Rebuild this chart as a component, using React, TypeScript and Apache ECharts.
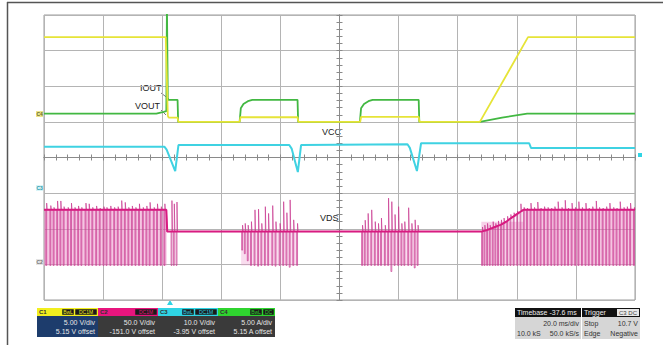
import React, { useEffect, useRef } from "react";
import * as echarts from "echarts";

// ---- screen axes: time in ms (20 ms/div), vertical in divisions ----
const X_MIN = -100;
const X_MAX = 100;
const X_STEP = 20;
const Y_MIN = -4;
const Y_MAX = 4;

// ---- C1 (yellow) ----
const c1Times = [-100, -58.8, -58.1, -57.8, -54.8, -54.5, -33.8, -33.5, -14.2, -13.9, 7.0, 7.3, 26.8, 27.1, 47.5, 63.8, 100];
const c1Levels = [3.38, 3.38, 1.17, 1.12, 1.12, 1.0, 1.0, 1.13, 1.13, 1.0, 1.0, 1.14, 1.14, 1.0, 1.0, 3.38, 3.38];

// ---- C4 (green, IOUT) ----
const c4Times = [-100, -62, -59.5, -58.6, -58.4, -58.1, -54.8, -54.6, -33.8, -33.4, -32.5, -31.0, -29.5, -14.2, -14.0, 6.9, 7.3, 8.3, 9.8, 11.2, 26.8, 27.0, 47.5, 55, 63.5, 100];
const c4Levels = [1.23, 1.23, 1.28, 1.3, 4.3, 1.62, 1.62, 1.0, 1.0, 1.38, 1.5, 1.58, 1.62, 1.62, 1.0, 1.0, 1.38, 1.5, 1.58, 1.62, 1.62, 1.0, 1.0, 1.12, 1.23, 1.23];

// ---- C3 (cyan, VCC) ----
const c3Times = [-100, -59.2, -58.5, -55.6, -54.5, -17.0, -16.2, -14.1, -13.0, 23.0, 23.8, 26.2, 27.6, 64.2, 64.8, 100];
const c3Levels = [0.3, 0.3, 0.22, -0.38, 0.35, 0.35, 0.25, -0.41, 0.35, 0.37, 0.27, -0.38, 0.4, 0.4, 0.27, 0.27];

// ---- C2 (magenta, VDS) ----
const C2_HIGH = -1.47;
const C2_MID = -2.08;
const C2_LOW = -3.03;

const b1Times = [-99.4, -98.0, -96.9, -95.7, -94.6, -93.5, -92.1, -91.0, -89.8, -88.6, -87.5, -86.1, -85.0, -83.8, -82.5, -81.3, -80.0, -79.0, -77.7, -76.4, -75.2, -74.0, -72.8, -71.6, -70.4, -69.2, -68.0, -66.7, -65.5, -64.4, -63.0, -61.9, -60.6, -59.4];
const b1Peaks = [-1.28, -1.35, -1.4, -1.22, -1.22, -1.38, -1.4, -1.28, -1.4, -1.36, -1.4, -1.28, -1.3, -1.4, -1.36, -1.42, -1.38, -1.4, -1.36, -1.4, -1.38, -1.21, -1.26, -1.4, -1.36, -1.4, -1.3, -1.4, -1.36, -1.26, -1.4, -1.3, -1.38, -1.3];
const b1TailTimes = [-57.0, -56.2, -55.3];
const b1TailPeaks = [-1.21, -1.3, -1.25];

const b2Times = [-33.1, -32.2, -31.2, -30.1, -28.9, -27.7, -26.6, -25.4, -24.3, -22.9, -21.8, -20.4, -19.2, -18.1, -17.0, -15.8, -14.5];
const b2Peaks = [-1.9, -1.85, -1.9, -1.8, -1.47, -1.45, -1.85, -1.38, -1.57, -1.35, -1.8, -1.85, -1.24, -1.55, -1.19, -1.75, -1.85];
const b2Lows = [-2.6, -2.7, -2.9, -3.03, -3.03, -3.05, -3.03, -3.03, -3.03, -3.03, -3.05, -3.03, -3.03, -3.03, -3.08, -3.03, -3.03];

const b3Times = [7.5, 8.4, 9.4, 10.6, 11.8, 12.9, 13.9, 15.2, 16.3, 17.4, 18.5, 19.7, 20.8, 21.8, 23.1, 24.2, 25.3, 26.3];
const b3Peaks = [-1.9, -1.76, -1.57, -1.47, -1.8, -1.85, -1.7, -1.9, -1.14, -1.24, -1.6, -1.38, -1.85, -1.8, -1.41, -1.85, -1.75, -1.9];
const b3Lows = [-3.03, -3.03, -3.03, -3.03, -3.03, -3.03, -3.03, -3.03, -3.03, -3.2, -3.03, -3.03, -3.03, -3.03, -3.03, -3.03, -3.1, -3.03];

const b4Times = [48.1, 48.9, 49.8, 50.7, 51.7, 52.6, 53.5, 54.5, 55.4, 56.6, 57.7, 58.8, 60.0, 61.1, 62.2, 63.3, 64.5, 65.7, 66.8, 67.9, 69.1, 70.3, 71.5, 72.6, 73.7, 75.0, 76.1, 77.2, 78.4, 79.6, 80.7, 81.9, 83.1, 84.2, 85.4, 86.6, 87.7, 88.9, 90.1, 91.2, 92.5, 93.6, 94.7, 96.0, 97.1, 98.2, 99.5];
const b4Highs = [-2.08, -2.06, -2.04, -2.01, -1.98, -1.95, -1.92, -1.89, -1.85, -1.79, -1.72, -1.66, -1.59, -1.53, -1.47, -1.47, -1.47, -1.47, -1.47, -1.47, -1.47, -1.47, -1.47, -1.47, -1.47, -1.47, -1.47, -1.47, -1.47, -1.47, -1.47, -1.47, -1.47, -1.47, -1.47, -1.47, -1.47, -1.47, -1.47, -1.47, -1.47, -1.47, -1.47, -1.47, -1.47, -1.47, -1.47];
const b4Peaks = [-1.95, -1.9, -1.85, -1.9, -1.8, -1.85, -1.78, -1.75, -1.7, -1.65, -1.6, -1.55, -1.5, -1.3, -1.4, -1.42, -1.28, -1.4, -1.25, -1.42, -1.38, -1.4, -1.42, -1.38, -1.24, -1.4, -1.2, -1.42, -1.28, -1.4, -1.24, -1.4, -1.28, -1.42, -1.38, -1.22, -1.4, -1.42, -1.38, -1.28, -1.4, -1.42, -1.24, -1.4, -1.38, -1.28, -1.4];

// shaded persistence bands of the switching bursts: [t0, t1, top, bottom, opacity]
const burstBands = [
  [-100, -58.5, -1.47, -3.03, 0.5],
  [-33.3, -14.2, -2.08, -3.03, 0.3],
  [7.3, 26.6, -2.08, -3.03, 0.3],
  [48.0, 62.2, -1.8, -3.03, 0.4],
  [62.2, 100, -1.47, -3.03, 0.5],
];

// ---- readouts ----
const channelBoxes = [
  { name: "C1", color: "#f2ef1e", body: "#1d3c6c", tags: ["BwL", "DC1M"], line1: "5.00 V/div", line2: "5.15 V offset" },
  { name: "C2", color: "#e8157e", body: "#3a3a3a", tags: ["DC1M"], line1: "50.0 V/div", line2: "-151.0 V offset" },
  { name: "C3", color: "#2fd4e4", body: "#3a3a3a", tags: ["BwL", "DC1M"], line1: "10.0 V/div", line2: "-3.95 V offset" },
  { name: "C4", color: "#2fd42f", body: "#3a3a3a", tags: ["BwL", "DC"], line1: "5.00 A/div", line2: "5.15 A offset" },
];
const timebaseLines = ["Timebase -37.6 ms", "20.0 ms/div", "10.0 kS", "50.0 kS/s"];
const triggerLines = ["Trigger", "C3 DC", "Stop", "10.7 V", "Edge", "Negative"];

const zip = (t: number[], v: number[]) => t.map((x, i) => [x, v[i]]);

function pulseTrain(times: number[], highs: number[] | number, peaks: number[], lows: number[] | number) {
  const pts: number[][] = [];
  times.forEach((t, i) => {
    const h = Array.isArray(highs) ? highs[i] : highs;
    const l = Array.isArray(lows) ? lows[i] : lows;
    pts.push([t, h], [t, l], [t + 0.3, l], [t + 0.3, peaks[i]], [t + 0.5, h]);
  });
  return pts;
}

export default function App() {
  const ref = useRef<HTMLDivElement>(null);
  useEffect(() => {
    if (!ref.current) return;
    const chart = echarts.init(ref.current, undefined, { renderer: "svg" });
    const FONT = "Liberation Sans";

    const vds = [
      [X_MIN, C2_HIGH],
      ...pulseTrain(b1Times, C2_HIGH, b1Peaks, C2_LOW),
      [-58.6, C2_HIGH],
      [-58.3, C2_MID],
      ...pulseTrain(b1TailTimes, C2_MID, b1TailPeaks, C2_LOW),
      ...pulseTrain(b2Times, C2_MID, b2Peaks, b2Lows),
      ...pulseTrain(b3Times, C2_MID, b3Peaks, b3Lows),
      [47.6, C2_MID],
      ...pulseTrain(b4Times, b4Highs, b4Peaks, C2_LOW),
      [X_MAX, C2_HIGH],
    ];
    // the settled level of VDS (drawn heavier, like the persistence trace)
    const vdsLevel = [
      [X_MIN, C2_HIGH],
      [-58.6, C2_HIGH],
      [-58.3, C2_MID],
      [47.6, C2_MID],
      ...zip(b4Times, b4Highs),
      [X_MAX, C2_HIGH],
    ];

    const gridLine = { color: "#b4b4b4", width: 1 };
    const axisBase = {
      type: "value",
      axisLabel: { show: false },
      axisLine: { show: true, onZero: true, lineStyle: { color: "#8a8a8a" } },
      minorTick: { show: true, splitNumber: 5, length: 3, lineStyle: { color: "#8a8a8a" } },
    };
    const xA = (inside: boolean, split: boolean) => ({
      ...axisBase,
      position: "bottom",
      min: X_MIN,
      max: X_MAX,
      interval: X_STEP,
      axisTick: { show: true, inside, length: 3, lineStyle: { color: "#8a8a8a" } },
      splitLine: { show: split, lineStyle: gridLine },
    });
    const yA = (inside: boolean, split: boolean) => ({
      ...axisBase,
      position: "left",
      min: Y_MIN,
      max: Y_MAX,
      interval: 1,
      axisTick: { show: true, inside, length: 3, lineStyle: { color: "#8a8a8a" } },
      splitLine: { show: split, lineStyle: gridLine },
    });

    const graphics: any[] = [];
    graphics.push({ type: "line", shape: { x1: 7, y1: 2.5, x2: 663, y2: 2.5 }, style: { stroke: "#555", lineWidth: 1.5 } });
    graphics.push({ type: "line", shape: { x1: 7.5, y1: 2, x2: 7.5, y2: 345 }, style: { stroke: "#555", lineWidth: 1.5 } });
    const lab = (text: string, x: number, y: number) =>
      graphics.push({ type: "text", x, y, style: { text, fill: "#222", font: `9px '${FONT}'`, textVerticalAlign: "middle" } });
    lab("IOUT", 140, 88);
    lab("VOUT", 135, 106);
    lab("VCC", 322, 132);
    lab("VDS", 320, 218);
    graphics.push({ type: "line", shape: { x1: 161, y1: 93, x2: 169, y2: 99 }, style: { stroke: "#555", lineWidth: 0.8 } });
    graphics.push({ type: "line", shape: { x1: 161, y1: 110, x2: 166, y2: 115 }, style: { stroke: "#555", lineWidth: 0.8 } });
    const marker = (t: string, y: number, bg: string, fg: string) => {
      graphics.push({ type: "rect", shape: { x: 36, y: y - 3, width: 7, height: 6 }, style: { fill: bg } });
      graphics.push({ type: "text", x: 36.5, y, style: { text: t, fill: fg, font: `bold 5px '${FONT}'`, textVerticalAlign: "middle" } });
    };
    marker("C4", 114, "#ece58a", "#6a6a2a");
    marker("C3", 188, "#d8f4f8", "#2a9aaa");
    marker("C2", 262, "#e4e4e4", "#777");
    graphics.push({ type: "polygon", shape: { points: [[167, 305], [173, 305], [170, 300]] }, style: { fill: "#2fd4e4" } });
    graphics.push({ type: "rect", shape: { x: 638, y: 153, width: 4, height: 4 }, style: { fill: "#2fd4e4" } });

    const boxX = [37, 98, 158, 218];
    const boxW = [61, 60, 60, 57];
    channelBoxes.forEach((b, i) => {
      const x = boxX[i];
      const w = boxW[i];
      graphics.push({ type: "rect", shape: { x, y: 308, width: w, height: 8 }, style: { fill: b.color } });
      graphics.push({ type: "text", x: x + 2, y: 312, style: { text: b.name, fill: "#333", font: `bold 6px '${FONT}'`, textVerticalAlign: "middle" } });
      let rx = x + w - 1;
      const tagW = (t: string) => (t.length <= 2 ? 11 : t.length === 3 ? 12 : 22);
      [...b.tags].reverse().forEach((t) => {
        const tw = tagW(t);
        rx -= tw;
        graphics.push({ type: "rect", shape: { x: rx, y: 309, width: tw, height: 6 }, style: { fill: "#1a1a1a", stroke: b.color, lineWidth: 0.5 } });
        graphics.push({ type: "text", x: rx + tw / 2, y: 312, style: { text: t, fill: b.color, font: `5px '${FONT}'`, textAlign: "center", textVerticalAlign: "middle" } });
        rx -= 1;
      });
      graphics.push({ type: "rect", shape: { x, y: 316, width: w, height: 21 }, style: { fill: b.body } });
      graphics.push({ type: "text", x: x + w - 3, y: 322, style: { text: b.line1, fill: "#e6e6e6", font: `7px '${FONT}'`, textAlign: "right", textVerticalAlign: "middle" } });
      graphics.push({ type: "text", x: x + w - 3, y: 331, style: { text: b.line2, fill: "#e6e6e6", font: `7px '${FONT}'`, textAlign: "right", textVerticalAlign: "middle" } });
    });

    const tbx = 515, tbw = 66;
    graphics.push({ type: "rect", shape: { x: tbx, y: 308, width: tbw, height: 9 }, style: { fill: "#111" } });
    graphics.push({ type: "text", x: tbx + 2, y: 312.5, style: { text: timebaseLines[0], fill: "#eee", font: `7px '${FONT}'`, textVerticalAlign: "middle" } });
    graphics.push({ type: "rect", shape: { x: tbx, y: 317, width: tbw, height: 22 }, style: { fill: "#d6d6d6" } });
    graphics.push({ type: "text", x: tbx + tbw - 2, y: 323, style: { text: timebaseLines[1], fill: "#333", font: `7px '${FONT}'`, textAlign: "right", textVerticalAlign: "middle" } });
    graphics.push({ type: "text", x: tbx + 2, y: 333, style: { text: timebaseLines[2], fill: "#333", font: `7px '${FONT}'`, textVerticalAlign: "middle" } });
    graphics.push({ type: "text", x: tbx + tbw - 2, y: 333, style: { text: timebaseLines[3], fill: "#333", font: `7px '${FONT}'`, textAlign: "right", textVerticalAlign: "middle" } });
    const trx = 582, trw = 58;
    graphics.push({ type: "rect", shape: { x: trx, y: 308, width: trw, height: 9 }, style: { fill: "#111" } });
    graphics.push({ type: "text", x: trx + 2, y: 312.5, style: { text: triggerLines[0], fill: "#eee", font: `7px '${FONT}'`, textVerticalAlign: "middle" } });
    graphics.push({ type: "rect", shape: { x: trx + 35, y: 309, width: 22, height: 7 }, style: { fill: "#e8e8e8" } });
    graphics.push({ type: "text", x: trx + 46, y: 312.5, style: { text: triggerLines[1], fill: "#444", font: `6px '${FONT}'`, textAlign: "center", textVerticalAlign: "middle" } });
    graphics.push({ type: "rect", shape: { x: trx, y: 317, width: trw, height: 22 }, style: { fill: "#d6d6d6" } });
    graphics.push({ type: "text", x: trx + 2, y: 323, style: { text: triggerLines[2], fill: "#333", font: `7px '${FONT}'`, textVerticalAlign: "middle" } });
    graphics.push({ type: "text", x: trx + trw - 2, y: 323, style: { text: triggerLines[3], fill: "#333", font: `7px '${FONT}'`, textAlign: "right", textVerticalAlign: "middle" } });
    graphics.push({ type: "text", x: trx + 2, y: 333, style: { text: triggerLines[4], fill: "#333", font: `7px '${FONT}'`, textVerticalAlign: "middle" } });
    graphics.push({ type: "text", x: trx + trw - 2, y: 333, style: { text: triggerLines[5], fill: "#333", font: `7px '${FONT}'`, textAlign: "right", textVerticalAlign: "middle" } });

    chart.setOption({
      animation: false,
      backgroundColor: "#ffffff",
      grid: { left: 44, top: 15, width: 591, height: 285, show: true, borderColor: "#9c9c9c", borderWidth: 1, backgroundColor: "transparent" },
      xAxis: [xA(false, true), xA(true, false)],
      yAxis: [yA(false, true), yA(true, false)],
      graphic: graphics,
      series: [
        {
          type: "line",
          name: "bands",
          data: [[X_MIN, Y_MIN]],
          showSymbol: false,
          lineStyle: { opacity: 0 },
          z: 1,
          silent: true,
          markArea: {
            silent: true,
            data: burstBands.map((b) => [
              { coord: [b[0], b[2]], itemStyle: { color: `rgba(236,140,198,${b[4]})` } },
              { coord: [b[1], b[3]] },
            ]),
          },
        },
        {
          type: "line",
          name: "VDS",
          data: vds,
          showSymbol: false,
          z: 3,
          lineStyle: { color: "#c8388f", width: 0.7 },
        },
        {
          type: "line",
          name: "VDS level",
          data: vdsLevel,
          showSymbol: false,
          z: 3,
          lineStyle: { color: "#d81b80", width: 2 },
        },
        {
          type: "line",
          name: "VCC",
          data: zip(c3Times, c3Levels),
          showSymbol: false,
          z: 4,
          lineStyle: { color: "#3fd2e2", width: 2 },
        },
        {
          type: "line",
          name: "IOUT",
          data: zip(c4Times, c4Levels),
          showSymbol: false,
          z: 5,
          lineStyle: { color: "#42b842", width: 1.8 },
        },
        {
          type: "line",
          name: "VOUT",
          data: zip(c1Times, c1Levels),
          showSymbol: false,
          z: 6,
          lineStyle: { color: "#e6e438", width: 1.8 },
        },
      ],
    });
    return () => chart.dispose();
  }, []);
  return <div ref={ref} style={{ position: "fixed", left: 0, top: 0, width: 663, height: 345, background: "#fff" }} />;
}
